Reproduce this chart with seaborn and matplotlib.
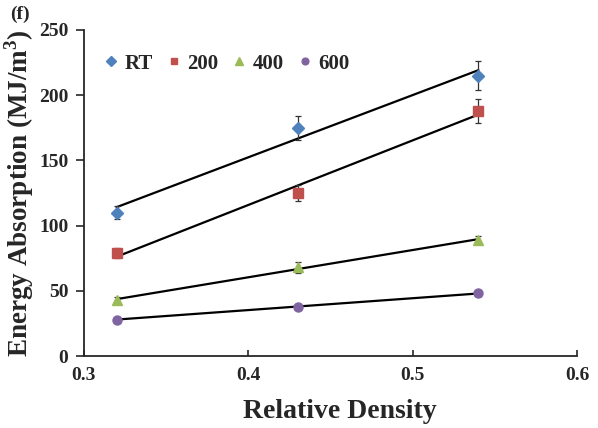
import numpy as np
import pandas as pd
import seaborn as sns
import matplotlib.pyplot as plt

density = [0.32, 0.43, 0.54]
series = ["RT", "200", "400", "600"]
energy_rt = [110, 175, 215]
energy_200 = [79, 125, 188]
energy_400 = [43, 68, 89]
energy_600 = [28, 38, 48]
err_rt = [5, 9, 11]
err_200 = [4, 6, 9]
err_400 = [2, 4, 3]
err_600 = [1, 1, 1]

colors = ["#4F81BD", "#C0504D", "#9BBB59", "#8064A2"]
markers = ["D", "s", "^", "o"]
sizes = [6.5, 6.5, 7.5, 6.5]

sns.set_style("ticks")
plt.rcParams['font.family'] = ['Liberation Serif', 'DejaVu Serif']
plt.rcParams['font.weight'] = 'bold'
plt.rcParams['mathtext.fontset'] = 'custom'
plt.rcParams['mathtext.rm'] = 'Liberation Serif:bold'
plt.rcParams['mathtext.bf'] = 'Liberation Serif:bold'

fig, ax = plt.subplots(figsize=(5.98, 4.28), dpi=100)
fig.subplots_adjust(left=0.14, right=0.965, top=0.93, bottom=0.168)

values = [energy_rt, energy_200, energy_400, energy_600]
errs = [err_rt, err_200, err_400, err_600]
for name, y, e, c, m, s in zip(series, values, errs, colors, markers, sizes):
    df = pd.DataFrame({"x": density, "y": y})
    sns.regplot(data=df, x="x", y="y", ax=ax, ci=None, scatter=False,
                line_kws={"color": "black", "lw": 1.6})
    ax.errorbar(density, y, yerr=e, fmt="none", ecolor="#333333",
                elinewidth=0.9, capsize=2.5, capthick=0.9)
    ax.plot(density, y, linestyle="none", marker=m, color=c, markersize=s,
            label=name)

ax.set_xlim(0.3, 0.6)
ax.set_ylim(0, 250)
ax.set_xticks([0.3, 0.4, 0.5, 0.6])
ax.set_xticklabels(["0.3", "0.4", "0.5", "0.6"])
ax.set_yticks([0, 50, 100, 150, 200, 250])
ax.tick_params(axis="y", labelsize=14, width=1.2, length=6, pad=5)
ax.tick_params(axis="x", labelsize=14, width=1.2, length=4, direction="in", pad=8)
for lbl in ax.get_xticklabels() + ax.get_yticklabels():
    lbl.set_fontweight("bold")
ax.set_xlabel("Relative Density", fontsize=20, fontweight="bold", labelpad=11,
              x=0.52)
ax.set_ylabel("Energy Absorption (MJ/m$^{3}$)", fontsize=19.5,
              fontweight="bold", labelpad=2)
sns.despine(ax=ax)
ax.spines["left"].set_linewidth(1.3)
ax.spines["bottom"].set_linewidth(1.3)

ax.legend(loc="upper left", ncol=4, frameon=False,
          handletextpad=0.25, columnspacing=0.6, handlelength=0.8,
          markerscale=0.75, bbox_to_anchor=(0.0, 0.985),
          prop={"weight": "bold", "size": 15})
fig.text(0.017, 0.955, "(f)", fontsize=14, fontweight="bold")

fig.savefig("out.png", dpi=100)
